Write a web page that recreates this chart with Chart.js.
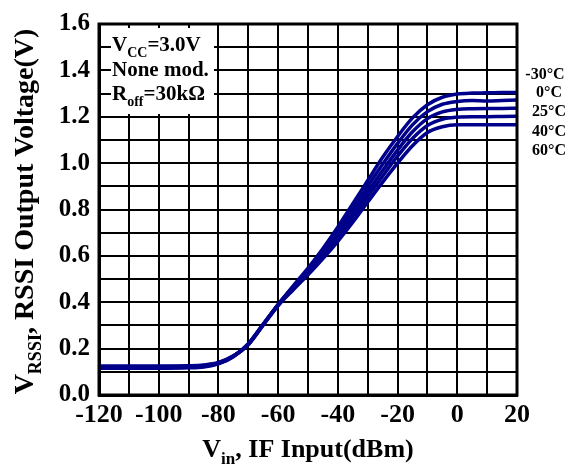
<!DOCTYPE html>
<html>
<head>
<meta charset="utf-8">
<script src="https://cdn.jsdelivr.net/npm/chart.js@4"></script>
<style>
  html, body { margin: 0; padding: 0; background: #fff; }
  #wrap { width: 585px; height: 474px; }
</style>
</head>
<body>
<div id="wrap"><canvas id="rssiChart" width="585" height="474"></canvas></div>
<script>
// Entrada IF en dBm (eje X)
const inputDbm = [-120, -110, -100, -90, -85, -80, -75, -70, -65, -60, -55, -50, -45, -40,
                  -35, -30, -25, -20, -15, -10, -5, 0, 5, 10, 15, 20];

// Voltaje RSSI (V) por temperatura
const rssiM30 = [0.115, 0.115, 0.115, 0.117, 0.121, 0.134, 0.165, 0.221, 0.306, 0.391, 0.470, 0.547, 0.632, 0.725,
                 0.825, 0.925, 1.025, 1.115, 1.195, 1.252, 1.284, 1.298, 1.302, 1.303, 1.305, 1.305];
const rssi0 = [0.118, 0.118, 0.118, 0.120, 0.123, 0.136, 0.166, 0.220, 0.305, 0.390, 0.467, 0.540, 0.620, 0.708,
               0.803, 0.900, 0.995, 1.085, 1.165, 1.222, 1.254, 1.266, 1.270, 1.268, 1.270, 1.272];
const rssi25 = [0.120, 0.120, 0.120, 0.122, 0.125, 0.137, 0.167, 0.219, 0.304, 0.389, 0.463, 0.533, 0.609, 0.693,
                0.784, 0.876, 0.968, 1.056, 1.135, 1.192, 1.221, 1.232, 1.235, 1.236, 1.236, 1.237];
const rssi40 = [0.122, 0.122, 0.122, 0.124, 0.127, 0.138, 0.168, 0.218, 0.303, 0.387, 0.458, 0.526, 0.599, 0.678,
                0.765, 0.855, 0.944, 1.030, 1.106, 1.162, 1.189, 1.198, 1.200, 1.200, 1.201, 1.202];
const rssi60 = [0.125, 0.125, 0.125, 0.126, 0.129, 0.140, 0.169, 0.217, 0.301, 0.385, 0.453, 0.518, 0.588, 0.663,
                0.745, 0.832, 0.918, 1.000, 1.075, 1.132, 1.157, 1.165, 1.165, 1.165, 1.165, 1.165];

const tempLabels = ['-30°C', '0°C', '25°C', '40°C', '60°C'];

// Ejes
const xMin = -120, xMax = 20, xGridStep = 10, xLabelStep = 20;
const yMin = 0, yMax = 1.6, yGridStep = 0.1;

const serif = '"Liberation Serif", "Times New Roman", serif';
const lineColor = '#00008b';

// Dibuja texto con subindices: partes [{t, sub}]
function drawParts(ctx, parts, x, y, size, align) {
    const subSize = Math.round(size * 0.65);
    let total = 0;
    parts.forEach(p => {
        ctx.font = 'bold ' + (p.sub ? subSize : size) + 'px ' + serif;
        p.w = ctx.measureText(p.t).width;
        total += p.w;
    });
    let cx = align === 'center' ? x - total / 2 : x;
    parts.forEach(p => {
        ctx.font = 'bold ' + (p.sub ? subSize : size) + 'px ' + serif;
        ctx.fillText(p.t, cx, p.sub ? y + size * 0.28 : y);
        cx += p.w;
    });
}

const annotations = {
    id: 'annotations',
    beforeDatasetsDraw(chart) {
        const ctx = chart.ctx;
        // Caja blanca de condiciones
        ctx.save();
        ctx.fillStyle = '#fff';
        ctx.fillRect(111, 28, 103, 86);
        ctx.restore();
    },
    afterDraw(chart) {
        const ctx = chart.ctx;
        const a = chart.chartArea;
        ctx.save();
        // Marco
        ctx.strokeStyle = '#000';
        ctx.lineWidth = 3;
        ctx.strokeRect(a.left, a.top, a.right - a.left, a.bottom - a.top);

        ctx.fillStyle = '#000';
        ctx.textBaseline = 'alphabetic';
        ctx.textAlign = 'left';
        // Condiciones
        drawParts(ctx, [{t: 'V'}, {t: 'CC', sub: true}, {t: '=3.0V'}], 112, 51, 21, 'left');
        drawParts(ctx, [{t: 'None mod.'}], 112, 76, 21, 'left');
        drawParts(ctx, [{t: 'R'}, {t: 'off', sub: true}, {t: '=30kΩ'}], 112, 100, 21, 'left');

        // Etiquetas de temperatura
        ctx.font = 'bold 16px ' + serif;
        ctx.textAlign = 'center';
        const tempY = [79, 97, 116, 136, 155];
        tempLabels.forEach((t, i) => ctx.fillText(t, i === 0 ? 545 : 549, tempY[i]));

        // Titulo eje X
        ctx.textAlign = 'left';
        drawParts(ctx, [{t: 'V'}, {t: 'in', sub: true}, {t: ', IF Input(dBm)'}],
                  (a.left + a.right) / 2, 457, 26, 'center');

        // Titulo eje Y
        ctx.translate(33, (a.top + a.bottom) / 2 + 2);
        ctx.rotate(-Math.PI / 2);
        drawParts(ctx, [{t: 'V'}, {t: 'RSSI', sub: true}, {t: ', RSSI Output Voltage(V)'}],
                  0, 0, 28, 'center');
        ctx.restore();
    }
};

const series = [rssiM30, rssi0, rssi25, rssi40, rssi60];

new Chart(document.getElementById('rssiChart').getContext('2d'), {
    type: 'line',
    data: {
        datasets: series.map((s, i) => ({
            label: tempLabels[i],
            data: inputDbm.map((x, k) => ({x: x, y: s[k]})),
            borderColor: lineColor,
            borderWidth: 3.5,
            pointRadius: 0,
            fill: false,
            cubicInterpolationMode: 'monotone'
        }))
    },
    options: {
        responsive: false,
        animation: false,
        layout: { padding: { top: 17, right: 68, left: 0, bottom: 0 } },
        plugins: { legend: { display: false }, tooltip: { enabled: false } },
        scales: {
            x: {
                type: 'linear',
                min: xMin,
                max: xMax,
                afterFit: scale => { scale.height = 79; },
                grid: { color: '#000', lineWidth: 2, drawTicks: false },
                border: { color: '#000', width: 3 },
                ticks: {
                    stepSize: xGridStep,
                    autoSkip: false,
                    maxRotation: 0,
                    padding: 5,
                    color: '#000',
                    font: { family: serif, size: 26, weight: 'bold' },
                    callback: v => (v % xLabelStep === 0 ? v : '')
                }
            },
            y: {
                min: yMin,
                max: yMax,
                afterFit: scale => { scale.width = 99; },
                grid: { color: '#000', lineWidth: 2, drawTicks: false },
                border: { color: '#000', width: 3 },
                ticks: {
                    stepSize: yGridStep,
                    autoSkip: false,
                    padding: 9,
                    color: '#000',
                    font: { family: serif, size: 25, weight: 'bold' },
                    callback: v => (Math.round(v * 10) % 2 === 0 ? v.toFixed(1) : '')
                }
            }
        }
    },
    plugins: [annotations]
});
</script>
</body>
</html>
